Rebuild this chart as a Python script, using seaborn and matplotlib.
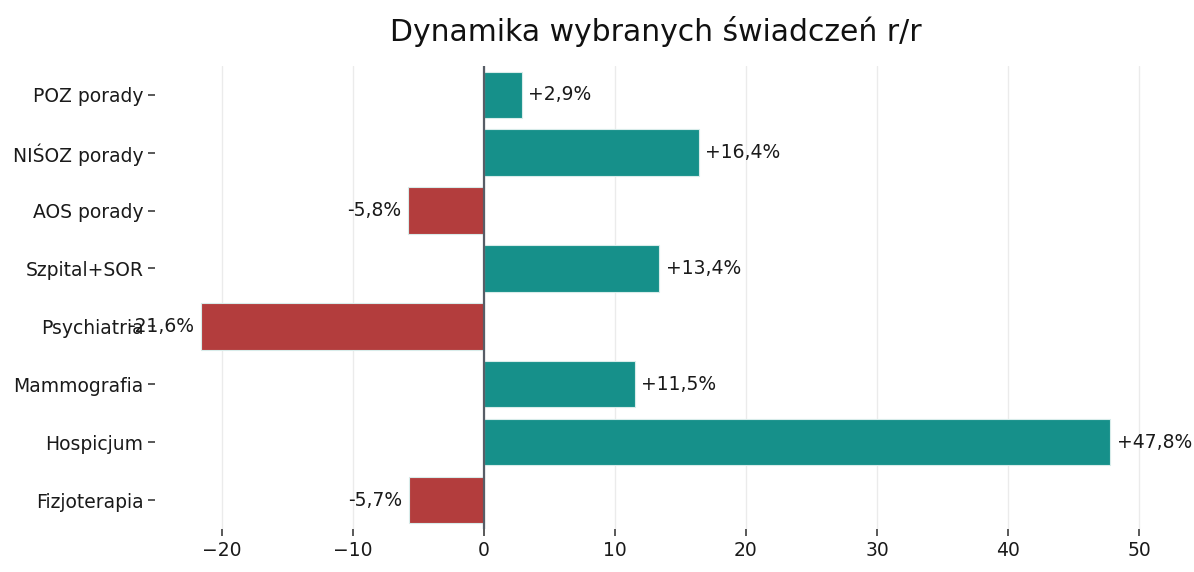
import pandas as pd
import matplotlib.pyplot as plt
import seaborn as sns

# Year-over-year change of selected services (%)
categories = ['POZ porady', 'NIŚOZ porady', 'AOS porady', 'Szpital+SOR',
              'Psychiatria', 'Mammografia', 'Hospicjum', 'Fizjoterapia']
changes = [2.9, 16.4, -5.8, 13.4, -21.6, 11.5, 47.8, -5.7]

df = pd.DataFrame({'kategoria': categories, 'zmiana': changes})
colors = ['#16908a' if v >= 0 else '#b33d3d' for v in changes]

sns.set_theme(style='whitegrid')
plt.rcParams['font.family'] = ['DejaVu Sans']

fig, ax = plt.subplots(figsize=(11.94, 5.72), dpi=100)
sns.barplot(data=df, y='kategoria', x='zmiana', hue='kategoria', palette=colors,
            saturation=1, legend=False, orient='h', width=0.8,
            edgecolor='#d8ecea', linewidth=0.8, ax=ax)

ax.axvline(0, color='#575d66', linewidth=1.6, zorder=3)

for i, v in enumerate(changes):
    label = f'{v:+.1f}%'.replace('.', ',')
    if v >= 0:
        ax.text(v + 0.5, i, label, va='center', ha='left', fontsize=13.5, color='#1a1a1a')
    else:
        ax.text(v - 0.5, i, label, va='center', ha='right', fontsize=13.5, color='#1a1a1a')

ax.set_title('Dynamika wybranych świadczeń r/r', fontsize=21.5, pad=18, color='#111111')
ax.set_xlabel('')
ax.set_ylabel('')
ax.grid(axis='y', visible=False)
ax.grid(axis='x', color='#ebebeb', linewidth=1)
for s in ax.spines.values():
    s.set_visible(False)
ax.tick_params(axis='both', labelsize=13.5, length=5, color='#444444',
               labelcolor='#1a1a1a', left=True, bottom=True)

plt.subplots_adjust(left=0.13, right=0.968, top=0.885, bottom=0.075)
plt.savefig('out.png', dpi=100)
